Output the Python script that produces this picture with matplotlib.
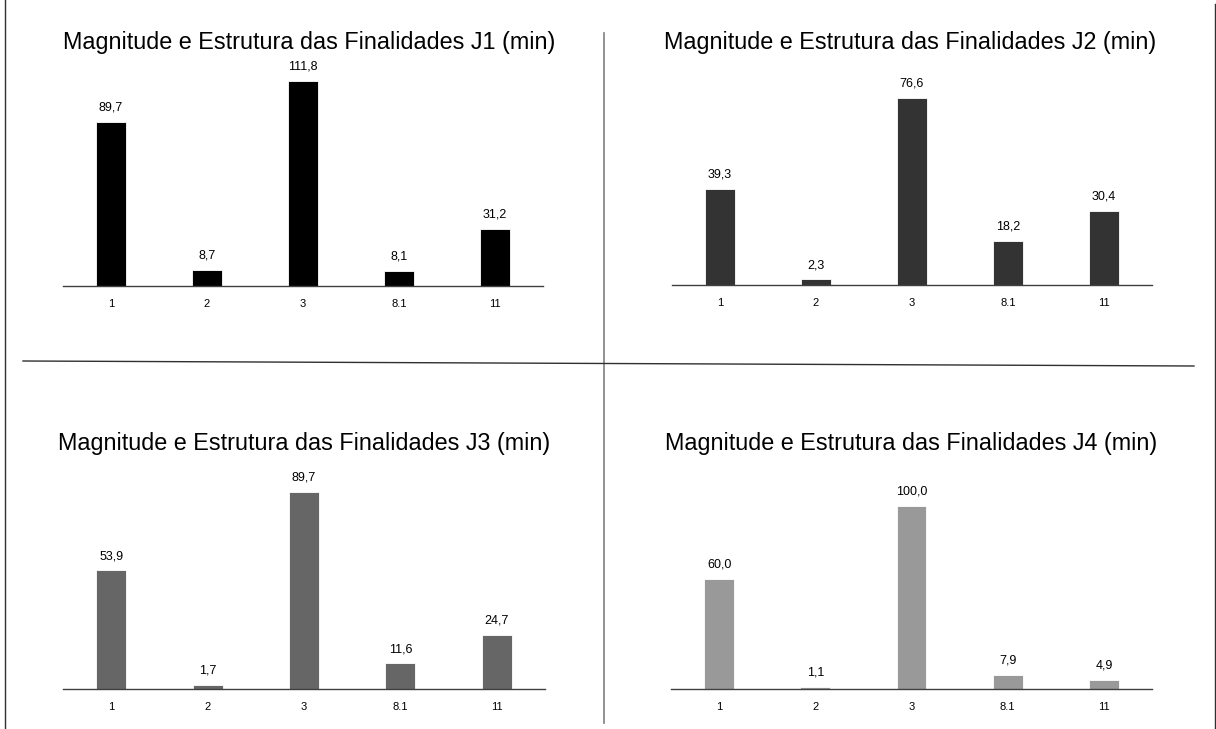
import matplotlib
matplotlib.use("Agg")
import matplotlib.pyplot as plt
from matplotlib.lines import Line2D

plt.rcParams["font.family"] = ["Liberation Sans", "DejaVu Sans"]

categories = ["1", "2", "3", "8.1", "11"]
j1 = [89.7, 8.7, 111.8, 8.1, 31.2]
j2 = [39.3, 2.3, 76.6, 18.2, 30.4]
j3 = [53.9, 1.7, 89.7, 11.6, 24.7]
j4 = [60.0, 1.1, 100.0, 7.9, 4.9]
titles = ["Magnitude e Estrutura das Finalidades J1 (min)",
          "Magnitude e Estrutura das Finalidades J2 (min)",
          "Magnitude e Estrutura das Finalidades J3 (min)",
          "Magnitude e Estrutura das Finalidades J4 (min)"]

W, H = 1216, 729
fig = plt.figure(figsize=(W / 100, H / 100), dpi=100)

def px(x0, y0, x1, y1):
    # pixel box (top-left origin) -> figure fraction rect
    return [x0 / W, 1 - y1 / H, (x1 - x0) / W, (y1 - y0) / H]

panels = [
    (j1, "#000000", 120, px(63, 66, 543, 286), (309, 42)),
    (j2, "#333333", 90, px(672, 65, 1152, 285), (910, 42)),
    (j3, "#666666", 100, px(63, 469, 545, 689), (304, 443)),
    (j4, "#999999", 120, px(671, 469, 1152, 689), (911, 443)),
]

for (vals, color, ymax, rect, tpos), title in zip(panels, titles):
    ax = fig.add_axes(rect)
    xs = range(len(categories))
    bars = ax.bar(xs, vals, width=0.31, color=color, edgecolor="white", linewidth=0.6)
    for b, v in zip(bars, vals):
        ax.annotate(f"{v:.1f}".replace(".", ","),
                    (b.get_x() + b.get_width() / 2, v),
                    xytext=(0, 6), textcoords="offset points",
                    ha="center", va="bottom", fontsize=9, color="#000000")
    ax.set_xlim(-0.5, len(categories) - 0.5)
    ax.set_ylim(0, ymax)
    ax.set_xticks(list(xs))
    ax.set_xticklabels(categories, fontsize=8)
    ax.tick_params(axis="x", length=0, pad=9)
    ax.set_yticks([])
    for s in ["top", "right", "left"]:
        ax.spines[s].set_visible(False)
    ax.spines["bottom"].set_color("#404040")
    ax.spines["bottom"].set_linewidth(1.0)
    fig.text(tpos[0] / W, 1 - tpos[1] / H, title, ha="center", va="center",
             fontsize=16.8, color="#000000")

# separators between the four panels and the outer frame sides
fig.add_artist(Line2D([604 / W, 604 / W], [1 - 33 / H, 1 - 723 / H],
                      color="#808080", lw=1.2, transform=fig.transFigure))
fig.add_artist(Line2D([23 / W, 1194 / W], [1 - 361 / H, 1 - 366 / H],
                      color="#303030", lw=1.0, transform=fig.transFigure))
fig.add_artist(Line2D([5 / W, 5 / W], [1.0, 0.0],
                      color="#303030", lw=1.0, transform=fig.transFigure))
fig.add_artist(Line2D([1215 / W, 1215 / W], [1 - 4 / H, 0.0],
                      color="#303030", lw=1.0, transform=fig.transFigure))

fig.savefig("out.png", dpi=100, facecolor="white")
